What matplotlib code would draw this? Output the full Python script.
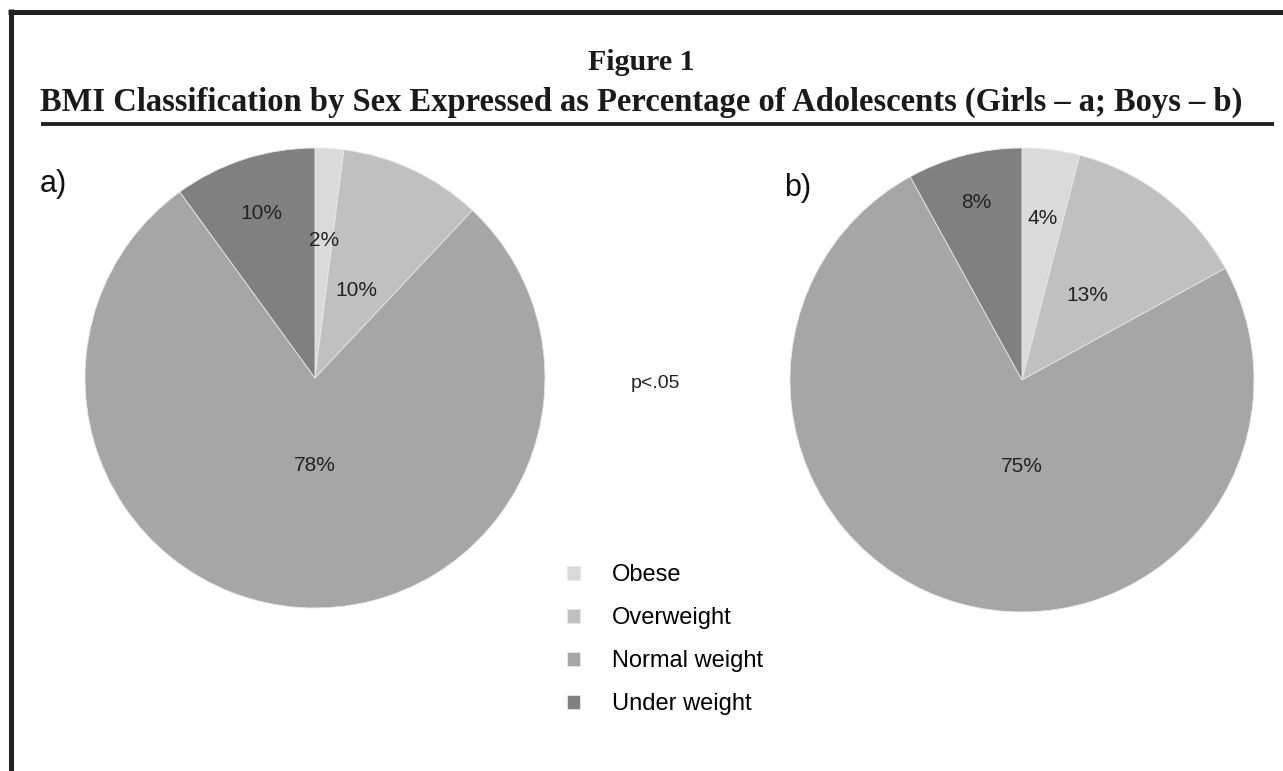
import numpy as np
import matplotlib.pyplot as plt
from matplotlib.lines import Line2D

# BMI classes, clockwise from the top
categories = ['Obese', 'Overweight', 'Normal weight', 'Under weight']
girls_pct = [2, 10, 78, 10]
boys_pct = [4, 13, 75, 8]

colors = ['#dadada', '#c0c0c0', '#a6a6a6', '#808080']
# where each percentage sits: fraction of the radius, and a turn off the wedge middle (deg)
girls_label_r = [0.60, 0.42, 0.38, 0.75]
girls_label_turn = [0, 0, 3.6, 0]
boys_label_r = [0.70, 0.46, 0.375, 0.79]
boys_label_turn = [0, 0, 16.2, 0]

W, H = 1283, 771
fig = plt.figure(figsize=(W / 100, H / 100), dpi=100)
plt.rcParams['font.family'] = ['Liberation Sans', 'DejaVu Sans']


def fx(x):
    return x / W


def fy(y):
    return 1 - y / H


def draw_pie(rect, values, label_r, label_turn, tag, tag_xy):
    ax = fig.add_axes(rect)
    wedges, _ = ax.pie(values, colors=colors, startangle=90, counterclock=False,
                       radius=1, wedgeprops=dict(edgecolor='#e8e8e8', linewidth=0.6))
    for w, v, r, t in zip(wedges, values, label_r, label_turn):
        mid = np.deg2rad((w.theta1 + w.theta2) / 2 + t)
        ax.text(r * np.cos(mid), r * np.sin(mid), '{}%'.format(v),
                ha='center', va='center', fontsize=15, color='#222222')
    ax.set_xlim(-1, 1)
    ax.set_ylim(-1, 1)
    ax.set_aspect('equal')
    ax.axis('off')
    fig.text(fx(tag_xy[0]), fy(tag_xy[1]), tag, fontsize=22, color='#111111',
             ha='left', va='center')
    return wedges


# pie a) girls, pie b) boys
wedges = draw_pie([fx(85), fy(608), fx(460), 460 / H], girls_pct, girls_label_r,
                  girls_label_turn, 'a)', (40, 184))
draw_pie([fx(790), fy(612), fx(464), 464 / H], boys_pct, boys_label_r,
         boys_label_turn, 'b)', (784, 188))

fig.text(fx(655), fy(383), 'p<.05', fontsize=14, ha='center', va='center', color='#222222')

fig.legend(wedges, categories, loc='upper left', bbox_to_anchor=(fx(567), fy(564)),
           frameon=False, fontsize=17, handlelength=0.55, handleheight=0.55,
           handletextpad=1.35, labelspacing=0.89, borderpad=0, borderaxespad=0)

# frame and title
fig.add_artist(Line2D([fx(10.5), fx(10.5)], [fy(9), 0], color='#222222', lw=3.6,
                      solid_capstyle='butt'))
fig.add_artist(Line2D([fx(8), 1], [fy(11.5), fy(11.5)], color='#222222', lw=3.6,
                      solid_capstyle='butt'))
fig.add_artist(Line2D([fx(41), fx(1274)], [fy(124), fy(124)], color='#222222', lw=2.8,
                      solid_capstyle='butt'))

serif = ['Liberation Serif', 'DejaVu Serif']
fig.text(0.5, fy(63), 'Figure 1', fontsize=21.5, fontweight='bold', ha='center', va='center',
         family=serif, color='#1a1a1a')
fig.text(0.5, fy(102), 'BMI Classification by Sex Expressed as Percentage of Adolescents (Girls \u2013 a; Boys \u2013 b)',
         fontsize=23.5, fontweight='bold', ha='center', va='center',
         family=serif, color='#1a1a1a')

fig.savefig('out.png', dpi=100, facecolor='white')
